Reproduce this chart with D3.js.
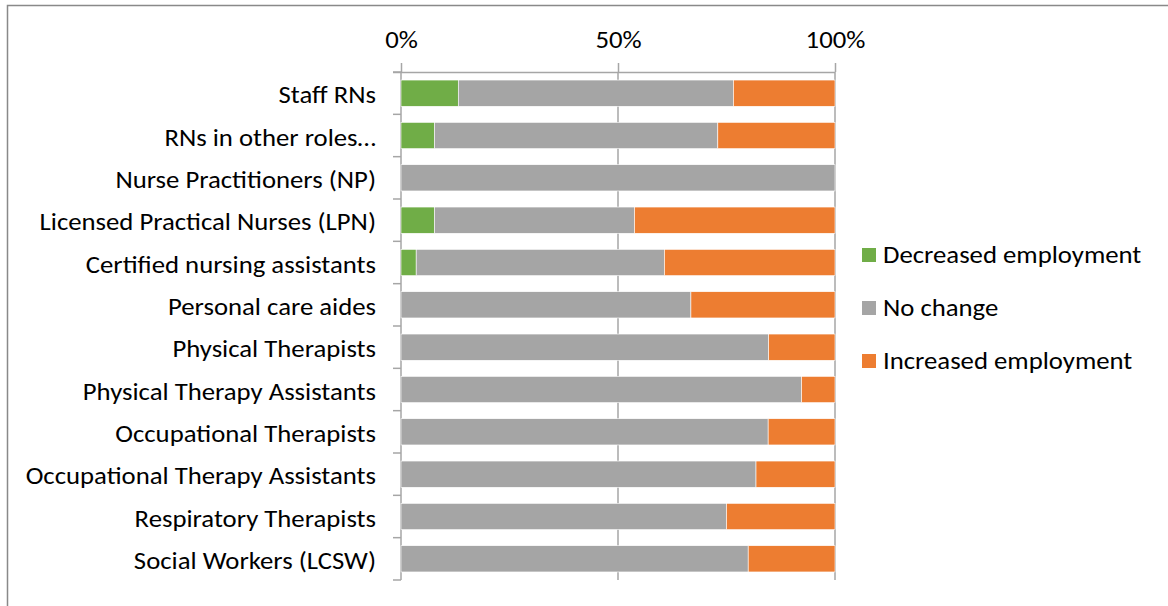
<!DOCTYPE html>
<html>
<head>
<meta charset="utf-8">
<script src="https://cdn.jsdelivr.net/npm/d3@7"></script>
<style>
  body { margin: 0; background: #fff; }
  svg text { font-family: Calibri, Carlito, "Open Sans", sans-serif; fill: #000; }
</style>
</head>
<body>
<svg width="1168" height="606"></svg>
<script>

// data (share of respondents, %)
var categories = ["Staff RNs", "RNs in other roles\u2026", "Nurse Practitioners (NP)",
  "Licensed Practical Nurses (LPN)", "Certified nursing assistants", "Personal care aides",
  "Physical Therapists", "Physical Therapy Assistants", "Occupational Therapists",
  "Occupational Therapy Assistants", "Respiratory Therapists", "Social Workers (LCSW)"]

var decreased = [13.2, 7.7, 0, 7.7, 3.5, 0, 0, 0, 0, 0, 0, 0]
var noChange  = [63.4, 65.3, 100, 46.1, 57.2, 66.8, 84.7, 92.3, 84.6, 81.8, 75.0, 80.0]
var increased = [23.4, 27.0, 0, 46.2, 39.3, 33.2, 15.3, 7.7, 15.4, 18.2, 25.0, 20.0]

var seriesNames = ["Decreased employment", "No change", "Increased employment"]
var seriesColors = ["#70AD47", "#A5A5A5", "#ED7D31"]
var xTicks = [0, 50, 100]

var fontSize = "25px"
var stretch = 1.07   // the reference text is a little wider than Calibri

var svg = d3.select("svg")

// chart frame
svg.append("rect")
  .attr("x", 7.5).attr("y", 5.5)
  .attr("width", 1175).attr("height", 620)
  .style("fill", "none").style("stroke", "#898989").style("stroke-width", 1.5)

var x = d3.scaleLinear().domain([0, 100]).range([401, 835])
var y = d3.scaleBand().domain(categories).range([72, 580]).paddingInner(0.38).paddingOuter(0.19)

// build stacked rows
var rows = categories.map(function(c, i){
  return {cat: c, vals: [decreased[i], noChange[i], increased[i]]}
})
var segs = []
rows.forEach(function(r){
  var acc = 0
  r.vals.forEach(function(v, k){
    segs.push({cat: r.cat, k: k, x0: acc, x1: acc + v})
    acc += v
  })
})

// gridlines
svg.selectAll(".grid").data(xTicks).enter().append("line")
  .attr("class", "grid")
  .attr("x1", function(d){ return x(d); })
  .attr("x2", function(d){ return x(d); })
  .attr("y1", 72).attr("y2", 580)
  .style("stroke", "#A6A6A6").style("stroke-width", 1.5)

// bars
svg.selectAll(".seg").data(segs.filter(function(d){ return d.x1 > d.x0; })).enter().append("rect")
  .attr("class", "seg")
  .attr("x", function(d){ return x(d.x0); })
  .attr("width", function(d){ return x(d.x1) - x(d.x0); })
  .attr("y", function(d){ return y(d.cat); })
  .attr("height", y.bandwidth())
  .style("fill", function(d){ return seriesColors[d.k]; })
  .style("stroke", "#fff").style("stroke-width", 0.6)

// top axis
var xAxis = svg.append("g")
  .attr("transform", "translate(0,72)")
  .call(d3.axisTop(x).tickValues(xTicks).tickSizeInner(9).tickSizeOuter(0).tickPadding(15)
    .tickFormat(function(d){ return d + "%"; }))
xAxis.select(".domain").attr("d", "M393,0.5H835").style("stroke", "#A6A6A6").style("stroke-width", 1.5)
xAxis.selectAll(".tick line").style("stroke", "#A6A6A6").style("stroke-width", 1.5)
xAxis.selectAll(".tick text")
  .attr("transform", "scale(" + stretch + ",1)")
  .style("font-size", fontSize).style("font-family", "Calibri, Carlito, 'Open Sans', sans-serif")

// left axis: category boundary ticks and labels
var gap = (y.step() - y.bandwidth()) / 2
var bounds = categories.map(function(c){ return y(c) - gap; }).concat([580])
svg.selectAll(".ytick").data(bounds).enter().append("line")
  .attr("class", "ytick")
  .attr("x1", 393).attr("x2", 401)
  .attr("y1", function(d){ return d; }).attr("y2", function(d){ return d; })
  .style("stroke", "#A6A6A6").style("stroke-width", 1.5)

svg.selectAll(".ylab").data(categories).enter().append("text")
  .attr("class", "ylab")
  .attr("transform", function(d){
    return "translate(376," + (y(d) + y.bandwidth() / 2) + ") scale(" + stretch + ",1)"; })
  .attr("dy", "0.4em")
  .attr("text-anchor", "end")
  .style("font-size", fontSize)
  .text(function(d){ return d; })

// legend
var legend = svg.selectAll(".leg").data(seriesNames).enter().append("g")
  .attr("class", "leg")
  .attr("transform", function(d, i){ return "translate(862," + (255 + i * 53) + ")"; })
legend.append("rect")
  .attr("x", 0).attr("y", -7).attr("width", 14).attr("height", 14)
  .style("fill", function(d, i){ return seriesColors[i]; })
legend.append("text")
  .attr("transform", "translate(21,8) scale(" + stretch + ",1)")
  .style("font-size", fontSize)
  .text(function(d){ return d; })

</script>
</body>
</html>
